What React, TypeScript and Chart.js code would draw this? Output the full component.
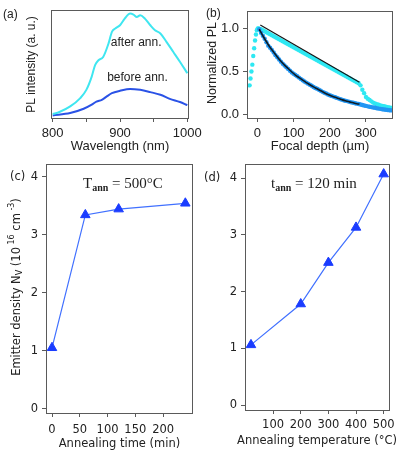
import React, { useEffect, useRef } from 'react';
import { Chart, registerables } from 'chart.js';

Chart.register(...registerables);

const W = 399;
const H = 455;

// ---------- (a) PL spectra ----------
const wavelengthAfter = [800, 810, 826, 841, 850, 858, 863, 868, 875, 883, 888, 893, 900, 907, 915, 920, 925, 930, 937, 945, 952, 960, 969, 979, 989, 1000];
const plAfter = [3.7, 5.6, 10.8, 18.6, 26.3, 38.7, 49.5, 54, 57, 69.7, 80.5, 83.6, 86.7, 92.9, 97.6, 96.7, 94.4, 96, 92.9, 86.7, 82, 79, 71.2, 61.9, 52.6, 41.8];
const wavelengthBefore = [800, 826, 846, 858, 865, 873, 880, 888, 900, 915, 930, 945, 960, 974, 989, 1000];
const plBefore = [2.4, 4.6, 8.6, 12.4, 15.4, 17, 20, 23.2, 25.4, 27.2, 26.3, 24.2, 21.7, 17.9, 14.9, 12.0];
const wavelengthTicks = [800, 850, 900, 950, 1000];
const wavelengthLabels = ['800', '', '900', '', '1000'];

// ---------- (b) depth profiles ----------
const depthCyan = [-21.5, -19, -16.5, -14, -11.5, -9, -6.5, -4, -1.5, 1, 3.5, 6,
  10, 15, 20, 25, 30, 35, 40, 45, 50, 55, 60, 65, 70, 75, 80, 85, 90, 95, 100,
  105, 110, 115, 120, 125, 130, 135, 140, 145, 150, 155, 160, 165, 170, 175, 180, 185, 190, 195, 200,
  205, 210, 215, 220, 225, 230, 235, 240, 245, 250, 255, 260, 265, 270, 275, 280,
  285, 290, 295, 300, 305, 310, 315, 320, 325, 330, 335, 340, 345, 350, 355, 360, 365, 370];
const plCyan = [0.34, 0.42, 0.5, 0.58, 0.68, 0.77, 0.86, 0.93, 0.98, 1.0, 1.0, 0.995,
  0.99, 0.978, 0.967, 0.955, 0.944, 0.932, 0.92, 0.909, 0.897, 0.886, 0.874, 0.862, 0.851, 0.839, 0.828, 0.816, 0.804, 0.793, 0.781,
  0.77, 0.758, 0.746, 0.735, 0.723, 0.712, 0.7, 0.688, 0.677, 0.665, 0.654, 0.642, 0.63, 0.619, 0.607, 0.596, 0.584, 0.572, 0.561, 0.549,
  0.538, 0.526, 0.514, 0.503, 0.491, 0.48, 0.468, 0.456, 0.445, 0.433, 0.422, 0.41, 0.398, 0.387, 0.375, 0.364,
  0.34, 0.29, 0.25, 0.205, 0.185, 0.17, 0.155, 0.14, 0.13, 0.122, 0.115, 0.108, 0.103, 0.098, 0.093, 0.088, 0.083, 0.078];
const depthBlue = [5, 10, 15, 20, 25, 30, 35, 40, 45, 50, 55, 60, 65, 70, 75, 80, 85, 90, 95, 100,
  105, 110, 115, 120, 125, 130, 135, 140, 145, 150, 155, 160, 165, 170, 175, 180, 185, 190, 195, 200,
  205, 210, 215, 220, 225, 230, 235, 240, 245, 250, 255, 260, 265, 270, 275, 280,
  285, 290, 295, 300, 305, 310, 315, 320, 325, 330, 335, 340, 345, 350, 355, 360, 365, 370];
const plBlue = [0.99, 0.95, 0.915, 0.88, 0.84, 0.8, 0.775, 0.75, 0.72, 0.69, 0.665, 0.64, 0.615, 0.59, 0.57, 0.55, 0.53, 0.51, 0.49, 0.475,
  0.46, 0.445, 0.43, 0.415, 0.4, 0.385, 0.372, 0.36, 0.347, 0.335, 0.322, 0.31, 0.3, 0.29, 0.278, 0.265, 0.255, 0.245, 0.235, 0.225,
  0.218, 0.21, 0.202, 0.195, 0.187, 0.18, 0.172, 0.165, 0.16, 0.155, 0.149, 0.143, 0.138, 0.133, 0.128, 0.124,
  0.118, 0.112, 0.107, 0.102, 0.097, 0.092, 0.088, 0.084, 0.08, 0.075, 0.071, 0.068, 0.064, 0.06, 0.057, 0.054, 0.052, 0.05];
const fitLinDepth = [8, 282];
const fitLinPL = [1.04, 0.377];
const fitExpDepth = [5, 15, 25, 35, 45, 55, 65, 75, 85, 95, 105, 115, 125, 135, 145, 155, 165, 175, 185, 195, 205, 215, 225, 235, 245, 255, 265, 275, 282];
const fitExpPL = [0.99, 0.915, 0.845, 0.78, 0.725, 0.67, 0.62, 0.575, 0.535, 0.495, 0.46, 0.43, 0.4, 0.372, 0.347, 0.322, 0.3, 0.278, 0.255, 0.235, 0.218, 0.202, 0.187, 0.172, 0.16, 0.149, 0.138, 0.128, 0.123];
const depthTicks = [0, 100, 200, 300];
const normTicks = [0, 0.5, 1.0];

// ---------- (c) density vs annealing time ----------
const annealTimeMin = [0, 60, 120, 240];
const densityVsTime = [1.05, 3.34, 3.44, 3.54];
const timeTicks = [0, 50, 100, 150, 200];

// ---------- (d) density vs annealing temperature ----------
const annealTempC = [20, 200, 300, 400, 500];
const densityVsTemp = [1.06, 1.78, 2.51, 3.13, 4.07];
const tempTicks = [100, 200, 300, 400, 500];
const densityTicks = [0, 1, 2, 3, 4];

const SANS = '"Liberation Sans", Arial, sans-serif';
const DEJA = '"DejaVu Sans", sans-serif';
const SERIF = '"Liberation Serif", "Times New Roman", serif';
const AXIS = '#5a5a5a';
const TXT = '#222';

const CYAN_A = '#3fe6f0';
const BLUE_A = '#2a52e6';
const CYAN_B = '#2ee8f2';
const BLUE_B = '#2196f3';
const TRI = '#1a3cff';
const TRI_LINE = '#4070ff';

const zip = (xs: number[], ys: number[]) => xs.map((x, i) => ({ x, y: ys[i] }));
const fixTicks = (vals: number[]) => (s: any) => { s.ticks = vals.map((v) => ({ value: v })); };

type Seg = { t: string; font: string; dy?: number };
type TextItem = { segs: Seg[]; x: number; y: number; rotate?: boolean; center?: boolean; data?: boolean; baseline?: CanvasTextBaseline; color?: string };

const makeTextPlugin = (items: TextItem[]) => ({
  id: 'texts',
  afterDraw(chart: any) {
    const ctx: CanvasRenderingContext2D = chart.ctx;
    for (const it of items) {
      let x = it.x;
      let y = it.y;
      if (it.data) {
        x = chart.scales.x.getPixelForValue(it.x);
        y = chart.scales.y.getPixelForValue(it.y);
      }
      ctx.save();
      ctx.fillStyle = it.color || TXT;
      ctx.textBaseline = it.baseline || 'middle';
      ctx.textAlign = 'left';
      let total = 0;
      for (const s of it.segs) {
        ctx.font = s.font;
        total += ctx.measureText(s.t).width;
      }
      ctx.translate(x, y);
      if (it.rotate) ctx.rotate(-Math.PI / 2);
      let cx = it.center ? -total / 2 : 0;
      for (const s of it.segs) {
        ctx.font = s.font;
        ctx.fillText(s.t, cx, s.dy || 0);
        cx += ctx.measureText(s.t).width;
      }
      ctx.restore();
    }
  },
});

const framePlugin = {
  id: 'frame',
  afterDatasetsDraw(chart: any) {
    const { ctx, chartArea: a } = chart;
    ctx.save();
    ctx.strokeStyle = AXIS;
    ctx.lineWidth = 1;
    const l = Math.round(a.left) - 0.5;
    const t = Math.round(a.top) - 0.5;
    const r = Math.round(a.right) + 0.5;
    const b = Math.round(a.bottom) + 0.5;
    ctx.strokeRect(l, t, r - l, b - t);
    ctx.restore();
  },
};

const tickGrid = (len: number) => ({ display: true, drawOnChartArea: false, drawTicks: true, tickLength: len, color: AXIS, lineWidth: 1 });

const base = (pad: { left: number; top: number; right: number; bottom: number }) => ({
  responsive: false,
  animation: false as const,
  devicePixelRatio: 1,
  layout: { padding: pad },
  events: [] as any[],
  plugins: { legend: { display: false }, tooltip: { enabled: false } },
});

function chartA(cv: HTMLCanvasElement) {
  const left = 52, top = 11, right = 188, bottom = 118, yw = 30, xh = 36;
  return new Chart(cv, {
    type: 'line',
    data: {
      datasets: [
        { data: zip(wavelengthAfter, plAfter), borderColor: CYAN_A, borderWidth: 2, pointRadius: 0, cubicInterpolationMode: 'monotone' },
        { data: zip(wavelengthBefore, plBefore), borderColor: BLUE_A, borderWidth: 2, pointRadius: 0, cubicInterpolationMode: 'monotone' },
      ],
    },
    options: {
      ...base({ left: left - yw, top, right: W - right, bottom: H - bottom - xh }),
      scales: {
        x: {
          type: 'linear', min: 799, max: 1001,
          afterBuildTicks: fixTicks(wavelengthTicks),
          afterFit: (s: any) => { s.height = xh; },
          grid: tickGrid(4), border: { display: false },
          ticks: { autoSkip: false, maxRotation: 0, padding: 4, color: TXT, font: { family: SANS, size: 13 },
            callback: (_v: any, i: number) => wavelengthLabels[i] },
          title: { display: true, text: 'Wavelength (nm)', color: TXT, font: { family: SANS, size: 13 }, padding: 0 },
        },
        y: {
          type: 'linear', min: 0, max: 100,
          afterFit: (s: any) => { s.width = yw; },
          grid: { display: false }, border: { display: false }, ticks: { display: false },
        },
      },
    } as any,
    plugins: [framePlugin, makeTextPlugin([
      { segs: [{ t: '(a)', font: `12px ${SANS}` }], x: 3, y: 15 },
      { segs: [{ t: 'PL intensity (a. u.)', font: `12px ${SANS}` }], x: 32, y: 64.5, rotate: true, center: true },
      { segs: [{ t: 'after ann.', font: `12px ${SANS}` }], x: 924, y: 70, data: true, center: true },
      { segs: [{ t: 'before ann.', font: `12px ${SANS}` }], x: 926, y: 38, data: true, center: true },
    ])],
  });
}

function chartB(cv: HTMLCanvasElement) {
  const left = 248, top = 12, right = 392, bottom = 118, yw = 30, xh = 36;
  return new Chart(cv, {
    type: 'scatter',
    data: {
      datasets: [
        { data: zip(fitLinDepth, fitLinPL), showLine: true, borderColor: '#151515', borderWidth: 1.2, pointRadius: 0 },
        { data: zip(fitExpDepth, fitExpPL), showLine: true, borderColor: '#0e1c26', borderWidth: 1.6, pointRadius: 0, cubicInterpolationMode: 'monotone' },
        { data: zip(depthBlue, plBlue), showLine: false, pointRadius: 2.2, pointBackgroundColor: BLUE_B, pointBorderWidth: 0 },
        { data: zip(depthCyan, plCyan), showLine: false, pointRadius: 2.2, pointBackgroundColor: CYAN_B, pointBorderWidth: 0 },
      ],
    },
    options: {
      ...base({ left: left - yw, top, right: W - right, bottom: H - bottom - xh }),
      scales: {
        x: {
          type: 'linear', min: -26, max: 372,
          afterBuildTicks: fixTicks(depthTicks),
          afterFit: (s: any) => { s.height = xh; },
          grid: tickGrid(4), border: { display: false },
          ticks: { autoSkip: false, maxRotation: 0, padding: 4, color: TXT, font: { family: SANS, size: 13 } },
          title: { display: true, text: 'Focal depth (\u00b5m)', color: TXT, font: { family: SANS, size: 13 }, padding: 0 },
        },
        y: {
          type: 'linear', min: -0.038, max: 1.19,
          afterBuildTicks: fixTicks(normTicks),
          afterFit: (s: any) => { s.width = yw; },
          grid: tickGrid(5), border: { display: false },
          ticks: { autoSkip: false, padding: 4, color: TXT, font: { family: SANS, size: 13 },
            callback: (v: any) => Number(v).toFixed(1) },
        },
      },
    } as any,
    plugins: [framePlugin, makeTextPlugin([
      { segs: [{ t: '(b)', font: `12px ${SANS}` }], x: 206, y: 14 },
      { segs: [{ t: 'Normalized PL', font: `12.5px ${SANS}` }], x: 213, y: 63, rotate: true, center: true },
    ])],
  });
}

function chartC(cv: HTMLCanvasElement) {
  const left = 47, top = 165, right = 192, bottom = 413, yw = 30, xh = 38;
  const F = `11.5px ${DEJA}`;
  const Fs = `8px ${DEJA}`;
  return new Chart(cv, {
    type: 'line',
    data: {
      datasets: [
        { data: zip(annealTimeMin, densityVsTime), borderColor: TRI_LINE, borderWidth: 1.2, pointStyle: 'triangle', pointRadius: 5.5,
          pointBackgroundColor: TRI, pointBorderColor: TRI, pointBorderWidth: 1, clip: false },
      ],
    },
    options: {
      ...base({ left: left - yw, top, right: W - right, bottom: H - bottom - xh }),
      scales: {
        x: {
          type: 'linear', min: -9, max: 252,
          afterBuildTicks: fixTicks(timeTicks),
          afterFit: (s: any) => { s.height = xh; },
          grid: tickGrid(4), border: { display: false },
          ticks: { autoSkip: false, maxRotation: 0, padding: 6, color: TXT, font: { family: DEJA, size: 11.5 } },
          title: { display: true, text: 'Annealing time (min)', color: TXT, font: { family: DEJA, size: 11.5 }, padding: 0 },
        },
        y: {
          type: 'linear', min: -0.074, max: 4.2,
          afterBuildTicks: fixTicks(densityTicks),
          afterFit: (s: any) => { s.width = yw; },
          grid: tickGrid(5), border: { display: false },
          ticks: { autoSkip: false, padding: 4, color: TXT, font: { family: DEJA, size: 11.5 } },
        },
      },
    } as any,
    plugins: [framePlugin, makeTextPlugin([
      { segs: [{ t: '(c)', font: F }], x: 10, y: 177 },
      { segs: [
        { t: 'Emitter density N', font: F },
        { t: 'V', font: Fs, dy: 3 },
        { t: ' (10', font: F },
        { t: ' 16', font: Fs, dy: -5 },
        { t: ' cm', font: F },
        { t: ' -3', font: Fs, dy: -5 },
        { t: ')', font: F },
      ], x: 17, y: 287, rotate: true, center: true },
      { segs: [
        { t: 'T', font: `15px ${SERIF}` },
        { t: 'ann', font: `bold 10px ${SERIF}`, dy: 3 },
        { t: ' = 500\u00b0C', font: `15px ${SERIF}` },
      ], x: 83, y: 188, baseline: 'alphabetic' },
    ])],
  });
}

function chartD(cv: HTMLCanvasElement) {
  const left = 246, top = 165, right = 390, bottom = 410, yw = 30, xh = 38;
  const F = `11.5px ${DEJA}`;
  return new Chart(cv, {
    type: 'line',
    data: {
      datasets: [
        { data: zip(annealTempC, densityVsTemp), borderColor: TRI_LINE, borderWidth: 1.2, pointStyle: 'triangle', pointRadius: 5.5,
          pointBackgroundColor: TRI, pointBorderColor: TRI, pointBorderWidth: 1, clip: false },
      ],
    },
    options: {
      ...base({ left: left - yw, top, right: W - right, bottom: H - bottom - xh }),
      scales: {
        x: {
          type: 'linear', min: 2, max: 520,
          afterBuildTicks: fixTicks(tempTicks),
          afterFit: (s: any) => { s.height = xh; },
          grid: tickGrid(4), border: { display: false },
          ticks: { autoSkip: false, maxRotation: 0, padding: 4, color: TXT, font: { family: DEJA, size: 11.5 } },
        },
        y: {
          type: 'linear', min: -0.088, max: 4.23,
          afterBuildTicks: fixTicks(densityTicks),
          afterFit: (s: any) => { s.width = yw; },
          grid: tickGrid(5), border: { display: false },
          ticks: { autoSkip: false, padding: 4, color: TXT, font: { family: DEJA, size: 11.5 } },
        },
      },
    } as any,
    plugins: [framePlugin, makeTextPlugin([
      { segs: [{ t: '(d)', font: F }], x: 204, y: 178 },
      { segs: [{ t: 'Annealing temperature (\u00b0C)', font: F }], x: 317, y: 441, center: true },
      { segs: [
        { t: 't', font: `15px ${SERIF}` },
        { t: 'ann', font: `bold 10px ${SERIF}`, dy: 3 },
        { t: ' = 120 min', font: `15px ${SERIF}` },
      ], x: 271, y: 188, baseline: 'alphabetic' },
    ])],
  });
}

export default function App() {
  const r0 = useRef<HTMLCanvasElement>(null);
  const r1 = useRef<HTMLCanvasElement>(null);
  const r2 = useRef<HTMLCanvasElement>(null);
  const r3 = useRef<HTMLCanvasElement>(null);

  useEffect(() => {
    document.body.style.margin = '0';
    const charts = [chartA(r0.current!), chartB(r1.current!), chartC(r2.current!), chartD(r3.current!)];
    return () => charts.forEach((c) => c.destroy());
  }, []);

  const cs: React.CSSProperties = { position: 'absolute', left: 0, top: 0, width: W, height: H };
  return (
    <div style={{ position: 'relative', width: W, height: H, background: '#fff', overflow: 'hidden' }}>
      <canvas ref={r0} width={W} height={H} style={cs} />
      <canvas ref={r1} width={W} height={H} style={cs} />
      <canvas ref={r2} width={W} height={H} style={cs} />
      <canvas ref={r3} width={W} height={H} style={cs} />
    </div>
  );
}
